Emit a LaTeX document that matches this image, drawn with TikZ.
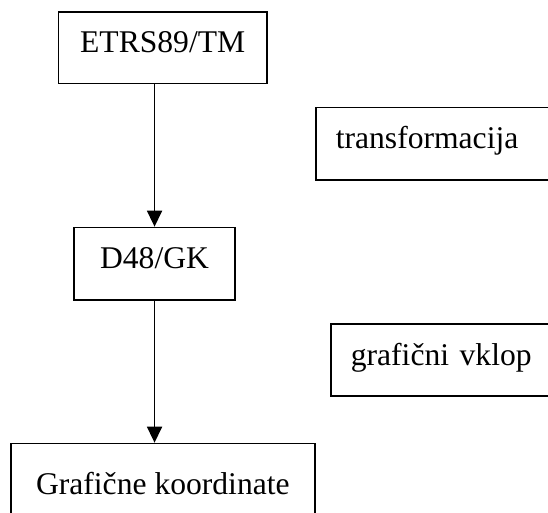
\documentclass[tikz,border=0pt]{standalone}
\usepackage{fontspec}
\setmainfont{Liberation Serif}
\usetikzlibrary{arrows.meta}
\begin{document}
\begin{tikzpicture}[x=1pt,y=-1pt,
  box/.style={draw, line width=1.7pt, inner ysep=0pt, font=\fontsize{31.6pt}{38pt}\selectfont, anchor=north west},
  cbox/.style={box, inner xsep=0pt},
  lbox/.style={box, inner xsep=20pt, align=left},
  arr/.style={line width=1.6pt, -{Triangle[width=15pt,length=16pt]}}]
\useasboundingbox (0,0) rectangle (548,512);
\clip (0,0) rectangle (548,512);
\node[cbox, minimum width=208.3pt, text height=40.7pt, text depth=31pt] (etrs) at (57.7,11) {ETRS89/TM};
\node[cbox, minimum width=160.6pt, text height=41pt, text depth=31.3pt] (d48) at (73.4,226.7) {D48/GK};
\node[cbox, minimum width=304pt, text height=51.3pt, text depth=40pt] (graf) at (10,442.7) {Grafične koordinate};
\node[lbox, text width=205pt, text height=41.3pt, text depth=31pt] (trans) at (315,106.7) {transformacija};
\node[lbox, text width=190pt, text height=41.5pt, text depth=30.5pt] (vklop) at (330,323) {grafični vklop};
\draw[arr] (etrs.south -| d48.north) -- (d48.north);
\draw[arr] (d48.south) -- (d48.south |- graf.north);
\end{tikzpicture}
\end{document}
